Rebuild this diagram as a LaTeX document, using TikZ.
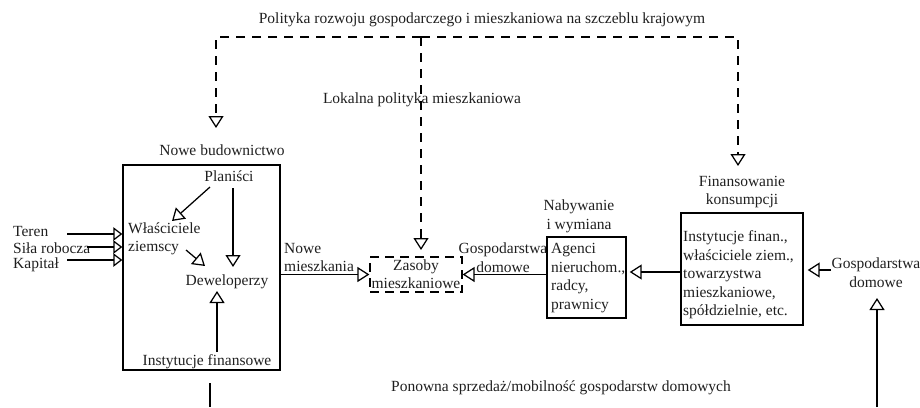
\documentclass[tikz,border=0pt]{standalone}
\usepackage{fontspec}
\setmainfont{Liberation Serif}
\usetikzlibrary{arrows.meta}
\begin{document}
\begin{tikzpicture}[x=1pt,y=-1pt,
  every node/.style={font=\fontsize{15.5}{18.5}\selectfont, inner sep=0pt, text=black!88},
  frame/.style={draw, line width=1.4pt, rectangle, inner sep=0pt},
  flow/.style={line width=1.25pt, -{Triangle[open, length=12pt, width=15pt, line width=1.25pt]}},
  feed/.style={line width=1.25pt, -{Triangle[open, length=9pt, width=13.5pt, line width=1.25pt]}},
  policy/.style={flow, dash pattern=on 9pt off 7pt},
]
\useasboundingbox (0,0) rectangle (920,407);

% boxes
\node[frame, minimum width=157pt, minimum height=205pt] (build) at (201.5,267.5) {};
\node[frame, dash pattern=on 9pt off 6pt, line width=1.25pt, minimum width=92pt, minimum height=35pt] (stock) at (416,274.5) {};
\node[frame, minimum width=79pt, minimum height=81pt] (agent) at (586.5,277.5) {};
\node[frame, minimum width=122pt, minimum height=112pt] (finbox) at (742,269) {};

% labels
\node (title) at (482,20) {Polityka rozwoju gospodarczego i mieszkaniowa na szczeblu krajowym};
\node (local) at (422,100) {Lokalna polityka mieszkaniowa};
\node (newlbl) at (222,150) {Nowe budownictwo};
\node (plan) at (229,176) {Planiści};
\node[align=left, anchor=west] (owners) at (128,239) {Właściciele\\ziemscy};
\node (dev) at (227,282) {Deweloperzy};
\node (fin) at (207,362) {Instytucje finansowe};
\node[anchor=west] (land) at (13,231) {Teren};
\node[anchor=west] (labour) at (13,248) {Siła robocza};
\node[anchor=west] (capital) at (13,265) {Kapitał};
\node[align=left, anchor=west] (newdw) at (284,257.5) {Nowe\\mieszkania};
\node[align=center] (stocktxt) at (416,274) {Zasoby\\mieszkaniowe};
\node[align=center] (hhmid) at (503,257.5) {Gospodarstwa\\domowe};
\node[align=center] (acq) at (579,216.5) {Nabywanie\\i wymiana};
\node[align=left, anchor=west] (agenttxt) at (551,278) {Agenci\\nieruchom.,\\radcy,\\prawnicy};
\node[align=center] (finlbl) at (742,192) {Finansowanie\\konsumpcji};
\node[align=left, anchor=west] (fintxt) at (683,275) {Instytucje finan.,\\właściciele ziem.,\\towarzystwa\\mieszkaniowe,\\spółdzielnie, etc.};
\node[align=center] (hhright) at (876,272.5) {Gospodarstwa\\domowe};
\node (resale) at (561,388) {Ponowna sprzedaż/mobilność gospodarstw domowych};

% national and local policy (dashed)
\coordinate (natl) at (421,37);
\draw[policy] (natl) -- (216,37) -- (216,128);
\draw[policy] (natl) -- (738,37) -- (738,166);
\draw[policy] (natl) -- (421,250);

% production inputs
\coordinate (landin) at (67,234);
\coordinate (labourin) at (87,247);
\coordinate (capin) at (67,260);
\draw[feed] (landin) -- (build.west |- landin);
\draw[feed] (labourin) -- (build.west |- labourin);
\draw[feed] (capin) -- (build.west |- capin);

% inside new construction
\coordinate (planA) at (210,187);
\coordinate (ownA) at (172,221);
\coordinate (planB) at (233,188);
\coordinate (devA) at (233,267);
\coordinate (ownB) at (186,250);
\coordinate (devB) at (205,266);
\coordinate (finA) at (217,352);
\coordinate (devC) at (217,291);
\draw[flow] (planA) -- (ownA);
\draw[flow] (planB) -- (devA);
\draw[flow] (ownB) -- (devB);
\draw[flow] (finA) -- (devC);

% flows into the housing stock
\draw[flow] (build.east |- stock.west) -- (stock.west);
\draw[flow] (agent.west |- stock.east) -- (stock.east);
\coordinate (finflow) at (680,272);
\draw[flow, shorten >=3pt] (finbox.west |- finflow) -- (agent.east |- finflow);
\coordinate (hhin) at (831,270);
\draw[flow, shorten >=4pt] (hhin) -- (finbox.east |- hhin);

% household mobility loop
\coordinate (hhbase) at (877,407);
\coordinate (hhtip) at (877,298);
\draw[flow] (hhbase) -- (hhtip);
\coordinate (loopA) at (210,383);
\coordinate (loopB) at (210,407);
\draw[line width=1.25pt] (loopA) -- (loopB);
\end{tikzpicture}
\end{document}
